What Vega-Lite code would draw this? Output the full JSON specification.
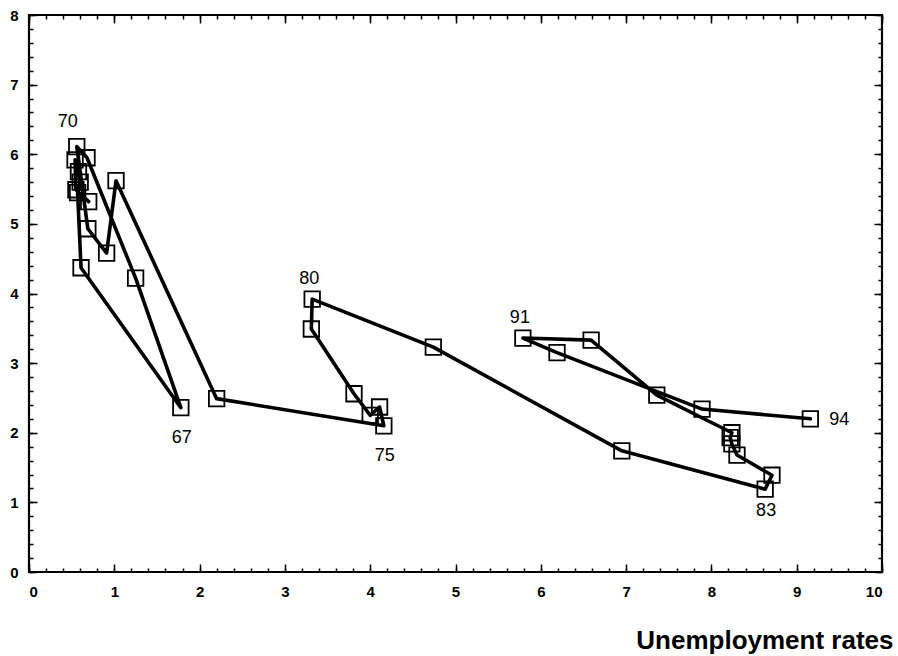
{
  "$schema": "https://vega.github.io/schema/vega-lite/v6.json",
  "autosize": "none",
  "width": 853,
  "height": 557,
  "padding": {"left": 29, "top": 15, "right": 16, "bottom": 84},
  "background": "white",
  "config": {
    "view": {"stroke": "black", "strokeWidth": 2.2},
    "axis": {"grid": false, "domain": false, "labelFont": "Liberation Sans", "labelColor": "black", "tickColor": "black", "titleColor": "black"}
  },
  "data": {
    "values": [
      {"year": 60, "unemp": 0.70, "value": 5.32},
      {"year": 61, "unemp": 0.55, "value": 5.49},
      {"year": 62, "unemp": 0.54, "value": 5.92},
      {"year": 63, "unemp": 0.58, "value": 5.75},
      {"year": 64, "unemp": 0.60, "value": 5.60},
      {"year": 65, "unemp": 0.57, "value": 5.45},
      {"year": 66, "unemp": 0.61, "value": 4.37},
      {"year": 67, "unemp": 1.78, "value": 2.36},
      {"year": 68, "unemp": 1.25, "value": 4.22},
      {"year": 69, "unemp": 0.68, "value": 5.95},
      {"year": 70, "unemp": 0.56, "value": 6.11},
      {"year": 71, "unemp": 0.69, "value": 4.93},
      {"year": 72, "unemp": 0.91, "value": 4.58},
      {"year": 73, "unemp": 1.02, "value": 5.62},
      {"year": 74, "unemp": 2.20, "value": 2.49},
      {"year": 75, "unemp": 4.16, "value": 2.10},
      {"year": 76, "unemp": 4.11, "value": 2.37},
      {"year": 77, "unemp": 4.00, "value": 2.25},
      {"year": 78, "unemp": 3.81, "value": 2.56},
      {"year": 79, "unemp": 3.31, "value": 3.49},
      {"year": 80, "unemp": 3.32, "value": 3.92},
      {"year": 81, "unemp": 4.74, "value": 3.23},
      {"year": 82, "unemp": 6.95, "value": 1.74},
      {"year": 83, "unemp": 8.63, "value": 1.19},
      {"year": 84, "unemp": 8.71, "value": 1.39},
      {"year": 85, "unemp": 8.30, "value": 1.68},
      {"year": 86, "unemp": 8.24, "value": 1.84},
      {"year": 87, "unemp": 8.22, "value": 1.93},
      {"year": 88, "unemp": 8.24, "value": 2.00},
      {"year": 89, "unemp": 7.36, "value": 2.54},
      {"year": 90, "unemp": 6.59, "value": 3.33},
      {"year": 91, "unemp": 5.79, "value": 3.36},
      {"year": 92, "unemp": 6.19, "value": 3.15},
      {"year": 93, "unemp": 7.89, "value": 2.34},
      {"year": 94, "unemp": 9.16, "value": 2.20}
    ]
  },
  "resolve": {"axis": {"x": "independent", "y": "independent"}},
  "layer": [
    {
      "mark": {"type": "line", "color": "black", "strokeWidth": 3.6, "strokeJoin": "round", "strokeCap": "round"},
      "encoding": {
        "x": {"field": "unemp", "type": "quantitative", "scale": {"domain": [0, 10], "nice": false, "zero": false},
              "axis": {"orient": "bottom", "values": [0,1,2,3,4,5,6,7,8,9,10], "ticks": false, "labelPadding": 12, "labelFontSize": 15, "labelFontWeight": "bold",
                       "title": "Unemployment rates", "titleFont": "Liberation Sans", "titleFontSize": 26, "titleFontWeight": "bold",
                       "titleAlign": "right", "titleBaseline": "alphabetic", "titleX": 864, "titleY": 76, "titleAnchor": "end"}},
        "y": {"field": "value", "type": "quantitative", "scale": {"domain": [0, 8], "nice": false, "zero": false},
              "axis": {"orient": "left", "values": [0,1,2,3,4,5,6,7,8], "ticks": false, "labelPadding": 11, "labelFontSize": 15, "labelFontWeight": "bold", "title": null}},
        "order": {"field": "year", "type": "quantitative"}
      }
    },
    {
      "mark": {"type": "point", "shape": "square", "filled": false, "color": "black", "strokeWidth": 1.8, "size": 240, "opacity": 1},
      "encoding": {
        "x": {"field": "unemp", "type": "quantitative",
              "axis": {"orient": "bottom", "labels": false, "title": null, "tickSize": -4, "tickWidth": 1.5,
                       "values": [0,0.2,0.4,0.6,0.8,1,1.2,1.4,1.6,1.8,2,2.2,2.4,2.6,2.8,3,3.2,3.4,3.6,3.8,4,4.2,4.4,4.6,4.8,5,5.2,5.4,5.6,5.8,6,6.2,6.4,6.6,6.8,7,7.2,7.4,7.6,7.8,8,8.2,8.4,8.6,8.8,9,9.2,9.4,9.6,9.8,10]}},
        "y": {"field": "value", "type": "quantitative",
              "axis": {"orient": "left", "labels": false, "title": null, "tickSize": -4, "tickWidth": 1.5,
                       "values": [0,0.2,0.4,0.6,0.8,1,1.2,1.4,1.6,1.8,2,2.2,2.4,2.6,2.8,3,3.2,3.4,3.6,3.8,4,4.2,4.4,4.6,4.8,5,5.2,5.4,5.6,5.8,6,6.2,6.4,6.6,6.8,7,7.2,7.4,7.6,7.8,8]}}
      }
    },
    {
      "mark": {"type": "point", "opacity": 0},
      "encoding": {
        "x": {"field": "unemp", "type": "quantitative",
              "axis": {"orient": "top", "labels": false, "title": null, "tickSize": -4, "tickWidth": 1.5,
                       "values": [0,0.2,0.4,0.6,0.8,1,1.2,1.4,1.6,1.8,2,2.2,2.4,2.6,2.8,3,3.2,3.4,3.6,3.8,4,4.2,4.4,4.6,4.8,5,5.2,5.4,5.6,5.8,6,6.2,6.4,6.6,6.8,7,7.2,7.4,7.6,7.8,8,8.2,8.4,8.6,8.8,9,9.2,9.4,9.6,9.8,10]}},
        "y": {"field": "value", "type": "quantitative",
              "axis": {"orient": "right", "labels": false, "title": null, "tickSize": -4, "tickWidth": 1.5,
                       "values": [0,0.2,0.4,0.6,0.8,1,1.2,1.4,1.6,1.8,2,2.2,2.4,2.6,2.8,3,3.2,3.4,3.6,3.8,4,4.2,4.4,4.6,4.8,5,5.2,5.4,5.6,5.8,6,6.2,6.4,6.6,6.8,7,7.2,7.4,7.6,7.8,8]}}
      }
    },
    {
      "mark": {"type": "point", "opacity": 0},
      "encoding": {
        "x": {"field": "unemp", "type": "quantitative",
              "axis": {"orient": "top", "labels": false, "title": null, "tickSize": -8, "tickWidth": 1.5, "values": [0,1,2,3,4,5,6,7,8,9,10]}},
        "y": {"field": "value", "type": "quantitative",
              "axis": {"orient": "right", "labels": false, "title": null, "tickSize": -8, "tickWidth": 1.5, "values": [0,1,2,3,4,5,6,7,8]}}
      }
    },
    {
      "mark": {"type": "point", "opacity": 0},
      "encoding": {
        "x": {"field": "unemp", "type": "quantitative",
              "axis": {"orient": "bottom", "labels": false, "title": null, "tickSize": -8, "tickWidth": 1.5, "values": [0,1,2,3,4,5,6,7,8,9,10]}},
        "y": {"field": "value", "type": "quantitative",
              "axis": {"orient": "left", "labels": false, "title": null, "tickSize": -8, "tickWidth": 1.5, "values": [0,1,2,3,4,5,6,7,8]}}
      }
    },
    {
      "transform": [{"filter": "datum.year == 70"}],
      "mark": {"type": "text", "font": "Liberation Sans", "fontSize": 18, "color": "black", "dx": -9, "dy": -25},
      "encoding": {"x": {"field": "unemp", "type": "quantitative", "axis": null}, "y": {"field": "value", "type": "quantitative", "axis": null}, "text": {"field": "year"}}
    },
    {
      "transform": [{"filter": "datum.year == 67 || datum.year == 75"}],
      "mark": {"type": "text", "font": "Liberation Sans", "fontSize": 18, "color": "black", "dx": 1, "dy": 30},
      "encoding": {"x": {"field": "unemp", "type": "quantitative", "axis": null}, "y": {"field": "value", "type": "quantitative", "axis": null}, "text": {"field": "year"}}
    },
    {
      "transform": [{"filter": "datum.year == 80 || datum.year == 91"}],
      "mark": {"type": "text", "font": "Liberation Sans", "fontSize": 18, "color": "black", "dx": -3, "dy": -20},
      "encoding": {"x": {"field": "unemp", "type": "quantitative", "axis": null}, "y": {"field": "value", "type": "quantitative", "axis": null}, "text": {"field": "year"}}
    },
    {
      "transform": [{"filter": "datum.year == 83"}],
      "mark": {"type": "text", "font": "Liberation Sans", "fontSize": 18, "color": "black", "dx": 1, "dy": 22},
      "encoding": {"x": {"field": "unemp", "type": "quantitative", "axis": null}, "y": {"field": "value", "type": "quantitative", "axis": null}, "text": {"field": "year"}}
    },
    {
      "transform": [{"filter": "datum.year == 94"}],
      "mark": {"type": "text", "font": "Liberation Sans", "fontSize": 18, "color": "black", "dx": 29, "dy": 1},
      "encoding": {"x": {"field": "unemp", "type": "quantitative", "axis": null}, "y": {"field": "value", "type": "quantitative", "axis": null}, "text": {"field": "year"}}
    }
  ]
}
